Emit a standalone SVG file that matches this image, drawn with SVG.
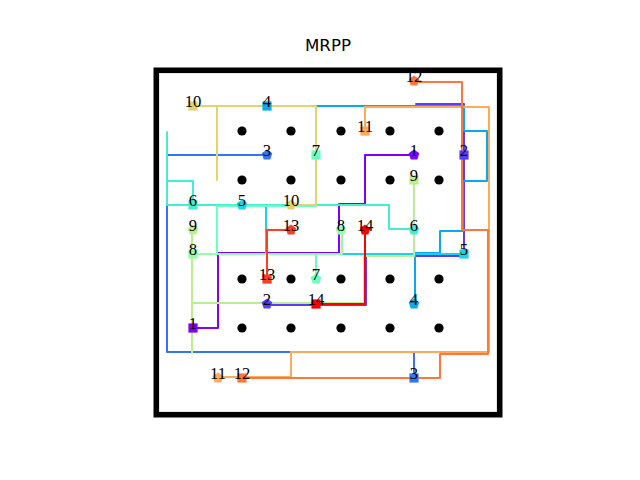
<svg xmlns="http://www.w3.org/2000/svg" width="640" height="480" viewBox="0 0 640 480">
<style>
.p{fill:none;stroke-width:2;stroke-linejoin:round;stroke-linecap:round}
.d{fill:#000}
.lb{font-family:"Liberation Serif","Times New Roman",serif;font-size:16.67px;text-anchor:middle;fill:#000}
.t{font-family:"DejaVu Sans",sans-serif;font-size:16.67px;text-anchor:middle;fill:#000}
</style>
<defs>
<rect id="sq" x="-4.6" y="-4.6" width="9.2" height="9.2"/>
<path id="pg" d="M0,-5.6 L5.3,-1.7 L3.3,4.5 L-3.3,4.5 L-5.3,-1.7 Z"/>
</defs>
<rect width="640" height="480" fill="#fff"/>
<text class="t" x="328" y="50.7">MRPP</text>
<rect x="156.3" y="70.3" width="343.4" height="344.4" fill="none" stroke="#000" stroke-width="5.6"/>
<g id="obstacles">
<circle class="d" cx="242" cy="131" r="4.6"/><circle class="d" cx="291" cy="131" r="4.6"/><circle class="d" cx="341" cy="131" r="4.6"/><circle class="d" cx="390" cy="131" r="4.6"/><circle class="d" cx="439" cy="131" r="4.6"/>
<circle class="d" cx="242" cy="180" r="4.6"/><circle class="d" cx="291" cy="180" r="4.6"/><circle class="d" cx="341" cy="180" r="4.6"/><circle class="d" cx="390" cy="180" r="4.6"/><circle class="d" cx="439" cy="180" r="4.6"/>
<circle class="d" cx="242" cy="279" r="4.6"/><circle class="d" cx="291" cy="279" r="4.6"/><circle class="d" cx="341" cy="279" r="4.6"/><circle class="d" cx="390" cy="279" r="4.6"/><circle class="d" cx="439" cy="279" r="4.6"/>
<circle class="d" cx="242" cy="328" r="4.6"/><circle class="d" cx="291" cy="328" r="4.6"/><circle class="d" cx="341" cy="328" r="4.6"/><circle class="d" cx="390" cy="328" r="4.6"/><circle class="d" cx="439" cy="328" r="4.6"/>
</g>
<g id="connectors">
<path class="p" stroke="#8000ff" d="M193,328 H218 V253 H339 V204 H365 V155 H414"/>
<path class="p" stroke="#583dfd" d="M464,155 V104 H416 M464,104 V256 H366 V305 H267"/>
<path class="p" stroke="#3176f8" d="M414,378 V352 H167 V155 H267"/>
<path class="p" stroke="#0aa9ee" d="M267,106 H464 V131 H487 V181 H463 V231 H440 V253 H415 V304"/>
<path class="p" stroke="#1dd2e2" d="M464,254 H266 V205 H242"/>
<path class="p" stroke="#45eed2" d="M193,205 V181 H167 V132 V205 H389 V229 H414"/>
<path class="p" stroke="#6cfdbf" d="M316,155 V206 H217 V254 H316 V279"/>
<path class="p" stroke="#93fda9" d="M193,254 H342 V230"/>
<path class="p" stroke="#baee91" d="M414,180 V256 H364 V303 H192 V353 V230"/>
<path class="p" stroke="#e2d276" d="M193,106 H217 V180 V106 H316 V205 H291"/>
<path class="p" stroke="#ffa95a" d="M365,131 V107 H489 V352 H291 V377 H218"/>
<path class="p" stroke="#ff763d" d="M242,378 H440 V354 H488 V230 H462 V82 H414"/>
<path class="p" stroke="#ff3d1f" d="M267,279 V230 H291"/>
<path class="p" stroke="#ff0000" d="M316,304 H365 V230"/>
</g>
<g id="agent1"><use href="#sq" x="193" y="328" fill="#8000ff"/><use href="#pg" x="414" y="155" fill="#8000ff"/><text class="lb" x="193" y="329">1</text><text class="lb" x="414" y="156">1</text></g>
<g id="agent2"><use href="#sq" x="464" y="155" fill="#583dfd"/><use href="#pg" x="267" y="304" fill="#583dfd"/><text class="lb" x="464" y="156">2</text><text class="lb" x="267" y="305">2</text></g>
<g id="agent3"><use href="#sq" x="414" y="378" fill="#3176f8"/><use href="#pg" x="267" y="155" fill="#3176f8"/><text class="lb" x="414" y="379">3</text><text class="lb" x="267" y="156">3</text></g>
<g id="agent4"><use href="#sq" x="267" y="106" fill="#0aa9ee"/><use href="#pg" x="414" y="304" fill="#0aa9ee"/><text class="lb" x="267" y="107">4</text><text class="lb" x="414" y="305">4</text></g>
<g id="agent5"><use href="#sq" x="464" y="254" fill="#1dd2e2"/><use href="#pg" x="242" y="205" fill="#1dd2e2"/><text class="lb" x="464" y="255">5</text><text class="lb" x="242" y="206">5</text></g>
<g id="agent6"><use href="#sq" x="193" y="205" fill="#45eed2"/><use href="#pg" x="414" y="230" fill="#45eed2"/><text class="lb" x="193" y="206">6</text><text class="lb" x="414" y="231">6</text></g>
<g id="agent7"><use href="#sq" x="316" y="155" fill="#6cfdbf"/><use href="#pg" x="316" y="279" fill="#6cfdbf"/><text class="lb" x="316" y="156">7</text><text class="lb" x="316" y="280">7</text></g>
<g id="agent8"><use href="#sq" x="193" y="254" fill="#93fda9"/><use href="#pg" x="341" y="230" fill="#93fda9"/><text class="lb" x="193" y="255">8</text><text class="lb" x="341" y="231">8</text></g>
<g id="agent9"><use href="#sq" x="414" y="180" fill="#baee91"/><use href="#pg" x="193" y="230" fill="#baee91"/><text class="lb" x="414" y="181">9</text><text class="lb" x="193" y="231">9</text></g>
<g id="agent10"><use href="#sq" x="193" y="106" fill="#e2d276"/><use href="#pg" x="291" y="205" fill="#e2d276"/><text class="lb" x="193" y="107">10</text><text class="lb" x="291" y="206">10</text></g>
<g id="agent11"><use href="#sq" x="365" y="131" fill="#ffa95a"/><use href="#pg" x="218" y="378" fill="#ffa95a"/><text class="lb" x="365" y="132">11</text><text class="lb" x="218" y="379">11</text></g>
<g id="agent12"><use href="#sq" x="242" y="378" fill="#ff763d"/><use href="#pg" x="414" y="81" fill="#ff763d"/><text class="lb" x="242" y="379">12</text><text class="lb" x="414" y="82">12</text></g>
<g id="agent13"><use href="#sq" x="267" y="279" fill="#ff3d1f"/><use href="#pg" x="291" y="230" fill="#ff3d1f"/><text class="lb" x="267" y="280">13</text><text class="lb" x="291" y="231">13</text></g>
<g id="agent14"><use href="#sq" x="316" y="304" fill="#ff0000"/><use href="#pg" x="365" y="230" fill="#ff0000"/><text class="lb" x="316" y="305">14</text><text class="lb" x="365" y="231">14</text></g>
</svg>
